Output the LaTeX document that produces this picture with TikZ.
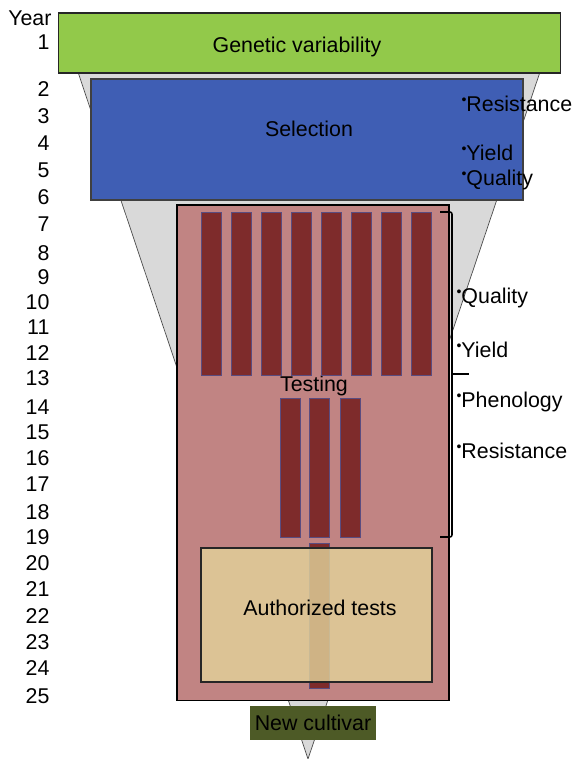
\documentclass[tikz,border=0pt]{standalone}
\usepackage{fontspec}
\setmainfont{Liberation Sans}
\usepackage{xcolor}
\usepackage{tikz}
\usetikzlibrary{arrows.meta,positioning,calc}
\definecolor{VarGreen}{HTML}{92C94A}
\definecolor{SelBlue}{HTML}{3F5EB4}
\definecolor{FunGray}{HTML}{D9D9D9}
\definecolor{TestRose}{HTML}{C18483}
\definecolor{BarRed}{HTML}{7E2B2B}
\definecolor{BarEdge}{HTML}{5A4C80}
\definecolor{AuthSand}{HTML}{E2D29A}
\definecolor{CultOlive}{HTML}{4D5A26}
\newcommand{\itm}{\raisebox{0.32em}{\fontsize{10}{10}\selectfont\textbullet}}

\begin{document}
\begin{tikzpicture}[x=0.025cm, y=-0.025cm, font=\fontsize{15.2}{18}\selectfont, line width=0.8pt,
  box/.style={draw=black!85, minimum width=#1, inner sep=0pt},
  bar/.style={draw=BarEdge, line width=0.6pt, fill=BarRed, minimum width=0.5cm, minimum height=#1, inner sep=0pt},
  crit/.style={anchor=west, inner sep=0pt},
  yr/.style={anchor=east, inner sep=0pt},
  brc/.style={line width=1.1pt, rounded corners=1.5pt}]

\useasboundingbox (0,0) rectangle (574,759);

% funnel behind everything
\filldraw[fill=FunGray, draw=black!70, line width=0.5pt] (78,72) -- (540,72) -- (308,759) -- cycle;

\node[box=12.525cm, fill=VarGreen, minimum height=1.5cm] (var) at (309.5,43) {};
\node (vartxt) at (297,47) {Genetic variability};

\node[box=10.8cm, fill=SelBlue, draw=black!75, minimum height=3.025cm] (sel) at (307,139.5) {};
\node (seltxt) at (309,129) {Selection};

\node[box=6.8cm, fill=TestRose, draw=black, minimum height=12.375cm] (test) at (313,452.5) {};
\node (testtxt) at (314,386) {Testing};

\foreach \i in {0,...,7}{\node[bar=4.075cm] (ba\i) at (211+30*\i,293.5) {};}
\foreach \i/\x in {0/290,1/319,2/350}{\node[bar=3.475cm] (bb\i) at (\x,467.5) {};}
\node[bar=3.625cm] (bc) at (319,615.5) {};

\node[box=5.775cm, fill=AuthSand, fill opacity=0.82, text opacity=1, minimum height=3.35cm] (auth) at (316.5,615) {};
\node (authtxt) at (320,608) {Authorized tests};

\node[box=3.15cm, fill=CultOlive, draw=none, minimum height=0.85cm] (cult) at (313,723) {New cultivar};

\draw[brc] (440,212) -- (452,212) -- (452,537) -- (440,537);
\draw[brc] (452,374) -- (469,374);

\node[crit] (c1) at (461,104) {\itm Resistance};
\node[crit] (c2) at (461,153) {\itm Yield};
\node[crit] (c3) at (461,180) {\itm Quality};
\node[crit] (c4) at (456,298) {\itm Quality};
\node[crit] (c5) at (456,350) {\itm Yield};
\node[crit] (c6) at (456,402) {\itm Phenology};
\node[crit] (c7) at (456,451) {\itm Resistance};

\node[yr] (year) at (52,18) {Year};
\foreach \n/\y in {1/42,2/89,3/116,4/143,5/170,6/197,7/224,8/253,9/277,10/302,11/327,12/353,13/378,
  14/407,15/432,16/458,17/484,18/512,19/537,20/563,21/589,22/616,23/642,24/668,25/696}
  {\node[yr] (y\n) at (50,\y) {\n};}
\end{tikzpicture}
\end{document}
